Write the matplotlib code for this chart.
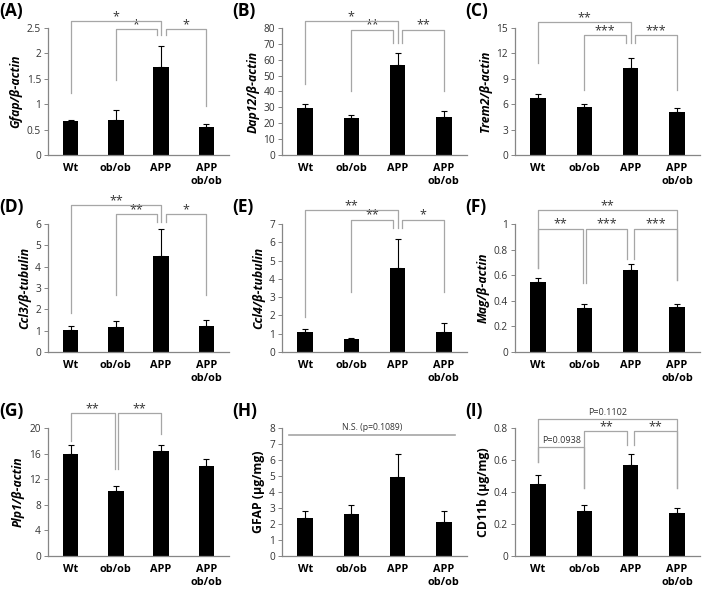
import matplotlib
matplotlib.use("Agg")
import matplotlib.pyplot as plt
import numpy as np

plt.rcParams['font.family'] = ['Open Sans', 'DejaVu Sans']

categories = ["Wt", "ob/ob", "APP", "APP\nob/ob"]

panel_labels = ["(A)", "(B)", "(C)", "(D)", "(E)", "(F)", "(G)", "(H)", "(I)"]
ylabel_texts = ["Gfap/β-actin", "Dap12/β-actin", "Trem2/β-actin",
                "Ccl3/β-tubulin", "Ccl4/β-tubulin", "Mag/β-actin",
                "Plp1/β-actin", "GFAP (μg/mg)", "CD11b (μg/mg)"]
ylabel_italic = [True, True, True, True, True, True, True, False, False]

gfap_mean = [0.67, 0.68, 1.74, 0.55]
gfap_err = [0.02, 0.20, 0.40, 0.06]
dap12_mean = [29.5, 23.3, 56.5, 24.0]
dap12_err = [2.7, 2.2, 7.8, 3.8]
trem2_mean = [6.75, 5.65, 10.25, 5.1]
trem2_err = [0.45, 0.40, 1.25, 0.45]
ccl3_mean = [1.05, 1.15, 4.5, 1.2]
ccl3_err = [0.18, 0.30, 1.28, 0.28]
ccl4_mean = [1.07, 0.70, 4.6, 1.08]
ccl4_err = [0.18, 0.08, 1.6, 0.48]
mag_mean = [0.55, 0.34, 0.64, 0.355]
mag_err = [0.03, 0.035, 0.05, 0.018]
plp1_mean = [16.0, 10.1, 16.4, 14.0]
plp1_err = [1.3, 0.8, 1.0, 1.2]
gfap_prot_mean = [2.4, 2.62, 4.95, 2.1]
gfap_prot_err = [0.42, 0.58, 1.45, 0.72]
cd11b_mean = [0.45, 0.283, 0.57, 0.27]
cd11b_err = [0.058, 0.035, 0.065, 0.03]

means = [gfap_mean, dap12_mean, trem2_mean, ccl3_mean, ccl4_mean, mag_mean,
         plp1_mean, gfap_prot_mean, cd11b_mean]
errs = [gfap_err, dap12_err, trem2_err, ccl3_err, ccl4_err, mag_err,
        plp1_err, gfap_prot_err, cd11b_err]

yticks = [
    [0, 0.5, 1, 1.5, 2, 2.5],
    [0, 10, 20, 30, 40, 50, 60, 70, 80],
    [0, 3, 6, 9, 12, 15],
    [0, 1, 2, 3, 4, 5, 6],
    [0, 1, 2, 3, 4, 5, 6, 7],
    [0, 0.2, 0.4, 0.6, 0.8, 1],
    [0, 4, 8, 12, 16, 20],
    [0, 1, 2, 3, 4, 5, 6, 7, 8],
    [0, 0.2, 0.4, 0.6, 0.8],
]

# significance brackets: (x1, x2, y_bar, y_left_end, y_right_end, label)
brackets = [
    [(0, 2, 2.64, 1.22, 2.36, "*"), (1, 1.9, 2.48, 1.48, 2.36, "*"), (2.1, 3, 2.48, 2.36, 0.96, "*")],
    [(0, 2, 84.4, 45, 70.5, "*"), (1, 1.9, 79, 40, 70.5, "**"), (2.1, 3, 79, 70.5, 40, "**")],
    [(0, 2, 15.7, 10.9, 13.2, "**"), (1, 1.9, 14.2, 7.7, 13.2, "***"), (2.1, 3, 14.2, 13.2, 7.7, "***")],
    [(0, 2, 6.87, 1.82, 6.1, "**"), (1, 1.9, 6.45, 2.67, 6.1, "**"), (2.1, 3, 6.45, 6.1, 2.67, "*")],
    [(0, 2, 7.78, 1.9, 6.78, "**"), (1, 1.9, 7.24, 3.26, 6.78, "**"), (2.1, 3, 7.24, 6.78, 3.26, "*")],
    [(0, 3, 1.107, 0.66, 0.56, "**"), (0, 0.97, 0.964, 0.66, 0.54, "**"),
     (1.03, 1.93, 0.964, 0.54, 0.73, "***"), (2.07, 3, 0.964, 0.73, 0.56, "***")],
    [(0, 0.97, 22.3, 18.0, 13.65, "**"), (1.05, 2, 22.3, 13.65, 19.1, "**")],
    [],
    [(0, 3, 0.856, 0.59, 0.426, "P=0.1102"), (0, 1, 0.68, 0.59, 0.426, "P=0.0938"),
     (1, 1.93, 0.779, 0.426, 0.696, "**"), (2.07, 3, 0.779, 0.696, 0.426, "**")],
]

W, H = 709, 589
fig = plt.figure(figsize=(W / 100, H / 100), dpi=100)

col_px = [(48, 181), (282, 185), (515, 185)]
row_px = [(28, 155), (224, 352), (428, 556)]

grey = "#a6a6a6"
axis_grey = "#868686"

for i in range(9):
    r, c = divmod(i, 3)
    x0, w = col_px[c]
    ytop, ybot = row_px[r]
    ax = fig.add_axes([x0 / W, 1 - ybot / H, w / W, (ybot - ytop) / H])
    x = np.arange(len(categories))
    m = np.array(means[i])
    e = np.array(errs[i])
    ax.bar(x, m, width=0.34, color="black", zorder=2)
    ax.errorbar(x, m, yerr=[np.zeros_like(e), e], fmt="none", ecolor="black",
                elinewidth=0.8, capsize=2.2, capthick=0.8, zorder=3)
    ax.set_xlim(-0.5, 3.5)
    yt = yticks[i]
    ax.set_ylim(0, yt[-1])
    ax.set_yticks(yt)
    ax.set_yticklabels([f"{v:g}" for v in yt], fontsize=7.3, color="#333333")
    ax.set_xticks(x)
    ax.set_xticklabels(categories, fontsize=7.8, fontweight="bold")
    ax.tick_params(axis="x", length=0, pad=6)
    ax.tick_params(axis="y", length=3, width=0.7, color=axis_grey, pad=2)
    for s in ["top", "right"]:
        ax.spines[s].set_visible(False)
    for s in ["left", "bottom"]:
        ax.spines[s].set_color(axis_grey)
        ax.spines[s].set_linewidth(0.9)
    ax.set_ylabel(ylabel_texts[i], fontsize=8.8, fontweight="bold",
                  fontstyle="italic" if ylabel_italic[i] else "normal", labelpad=3)
    ax.text(-0.27, 1.13, panel_labels[i], transform=ax.transAxes, fontsize=12.5,
            fontweight="bold", ha="left", va="center")

    for (x1, x2, yb, yl, yr, lab) in brackets[i]:
        ax.plot([x1, x1, x2, x2], [yl, yb, yb, yr], color=grey, lw=0.9,
                clip_on=False, zorder=4)
        if lab.startswith("P"):
            ax.annotate(lab, ((x1 + x2) / 2, yb), xytext=(0, 1.5),
                        textcoords="offset points", ha="center", va="bottom",
                        fontsize=6.5, color="#333333", annotation_clip=False)
        else:
            ax.annotate(lab, ((x1 + x2) / 2, yb), xytext=(0, -1.5),
                        textcoords="offset points", ha="center", va="bottom",
                        fontsize=9, color="#333333", annotation_clip=False)

    if i == 7:
        ax.plot([-0.34, 3.24], [7.58, 7.58], color=grey, lw=1.2, clip_on=False)
        ax.text(1.46, 7.72, "N.S. (p=0.1089)", ha="center", va="bottom",
                fontsize=6.2, color="#333333")

fig.savefig("out.png", dpi=100)
